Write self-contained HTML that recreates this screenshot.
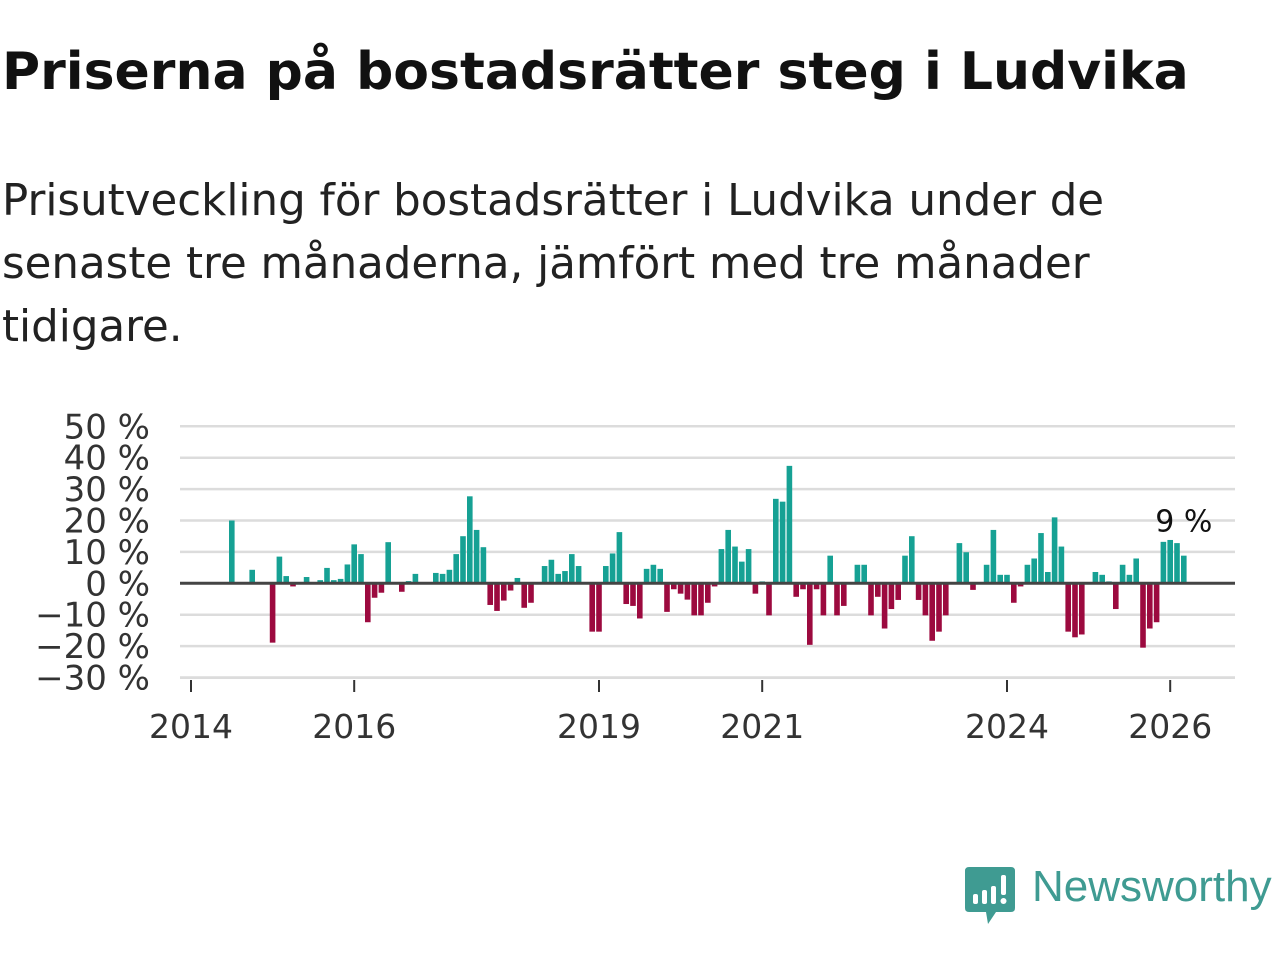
<!DOCTYPE html>
<html><head><meta charset="utf-8">
<style>
body{margin:0;width:1280px;height:960px;background:#fff;overflow:hidden;font-family:"Liberation Sans",sans-serif;color:#111}
#title{position:absolute;left:2px;top:42px;font-size:52px;font-weight:bold;white-space:nowrap;color:#111;font-family:"DejaVu Sans",sans-serif}
#subtitle{position:absolute;left:2px;top:170px;font-size:43.5px;line-height:63px;width:1270px;color:#222;font-family:"DejaVu Sans",sans-serif}
svg{position:absolute;left:0;top:0}
</style></head><body>
<div id="title">Priserna på bostadsrätter steg i Ludvika</div>
<div id="subtitle">Prisutveckling för bostadsrätter i Ludvika under de<br>senaste tre månaderna, jämfört med tre månader<br>tidigare.</div>
<svg id="chart" width="1280" height="960"></svg>
<script>
const startYear = 2014;
const values = [0,0,0,0,0,0,20,0,0,4.3,0,0,-18.9,8.5,2.3,-1,0,2,0,1,4.9,1,1.4,6,
12.4,9.3,-12.4,-4.6,-3,13.1,0,-2.7,0.7,3,0,0,3.3,3,4.3,9.3,15,27.7,17,11.5,-6.9,-8.8,-5.5,-2.3,
1.7,-7.8,-6.2,0,5.5,7.5,3,3.9,9.3,5.5,0,-15.4,-15.4,5.5,9.5,16.3,-6.6,-7.2,-11.2,4.6,5.9,4.6,-9.1,-1.9,
-3.3,-5.2,-10.2,-10.2,-6.2,-1,10.9,17,11.7,6.9,10.9,-3.3,0.6,-10.2,26.9,26,37.4,-4.3,-1.9,-19.6,-1.9,-10.2,8.8,-10.2,
-7.2,0,5.9,5.9,-10.2,-4.3,-14.4,-8.2,-5.3,8.8,15,-5.3,-10.2,-18.3,-15.4,-10.2,0,12.8,9.9,-2.1,0,5.9,17,2.7,
2.7,-6.2,-1,5.9,7.9,16,3.6,21,11.7,-15.4,-17.2,-16.3,0,3.6,2.7,0.6,-8.2,5.9,2.7,7.9,-20.5,-14.4,-12.4,13.2,
13.8,12.8,8.8];
const yTicks = [50,40,30,20,10,0,-10,-20,-30];
const xTickYears = [2014,2016,2019,2021,2024,2026];
const lastLabel = "9 %";

const NS="http://www.w3.org/2000/svg";
const svg=document.getElementById('chart');
const y0=583.3, pxPer=3.14;
const yS=v=>y0-v*pxPer;
const xS=m=>191+m*6.8;
function mk(t,a){const e=document.createElementNS(NS,t);for(const k in a)e.setAttribute(k,a[k]);svg.appendChild(e);return e;}
yTicks.forEach(t=>{
  if(t!==0){const l=mk('line',{x1:180,x2:1235,y1:yS(t),y2:yS(t),stroke:'#dcdcdc','stroke-width':2.5});
  
  }
  const tx=mk('text',{x:150,y:yS(t)+12,'text-anchor':'end','font-size':34,fill:'#333','font-family':'DejaVu Sans, sans-serif'});
  tx.textContent=(t<0?'\u2212'+(-t):t)+' %';
  
  
});
const bl=mk('line',{x1:180,x2:1235,y1:678,y2:678,stroke:'#dcdcdc','stroke-width':2});


values.forEach((v,i)=>{
  if(v===0)return;
  const r=mk('rect',{x:xS(i)-2.8,width:5.6,y:v>0?yS(v):y0,height:Math.abs(v)*pxPer,fill:v>0?'#16a194':'#9c0a3f'});
  
  
});
const zl=mk('line',{x1:180,x2:1235,y1:y0,y2:y0,stroke:'#444','stroke-width':3});


xTickYears.forEach(yr=>{
  const x=xS((yr-startYear)*12);
  const tk=mk('line',{x1:x,x2:x,y1:680,y2:692,stroke:'#333','stroke-width':2});
  
  
  const tx=mk('text',{x:x,y:738,'text-anchor':'middle','font-size':33,fill:'#333','font-family':'DejaVu Sans, sans-serif'});
  tx.textContent=yr;
  
  
});
const li=values.length-1;
const lab=mk('text',{x:xS(li),y:yS(values[li])-24,'text-anchor':'middle','font-size':30,fill:'#111','font-family':'DejaVu Sans, sans-serif'});
lab.textContent=lastLabel;


</script>
<svg width="60" height="70" style="left:964px;top:864px">
<path d="M5 3 H47 Q51 3 51 7 V44 Q51 48 47 48 H32 L24 60 L22 48 H5 Q1 48 1 44 V7 Q1 3 5 3Z" fill="#3f9b92"/>
<rect x="9" y="30" width="5" height="10" rx="2" fill="#fff"/><rect x="18" y="26" width="5" height="14" rx="2" fill="#fff"/><rect x="27" y="22" width="5" height="18" rx="2" fill="#fff"/><rect x="37" y="11" width="5" height="20" rx="2" fill="#fff"/><circle cx="39.5" cy="37" r="3" fill="#fff"/>
</svg>
<div style="position:absolute;left:1032px;top:862px;font-size:44px;color:#3f9b92;font-family:'Liberation Sans',sans-serif">Newsworthy</div>
</body></html>
